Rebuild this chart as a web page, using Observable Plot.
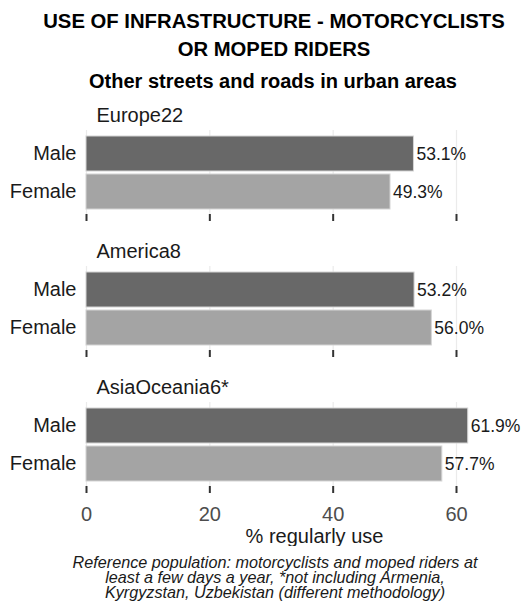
<!DOCTYPE html>
<html>
<head>
<meta charset="utf-8">
<script src="https://cdn.jsdelivr.net/npm/d3@7"></script>
<script src="https://cdn.jsdelivr.net/npm/@observablehq/plot@0.6"></script>
<style>
  html, body { margin: 0; padding: 0; background: #fff; overflow: hidden; }
  #wrap { position: relative; width: 529px; height: 608px; font-family: "Liberation Sans", Arial, sans-serif; color: #000; }
  .title { position: absolute; left: 19px; width: 510px; text-align: center; font-weight: bold; font-size: 20.3px; line-height: 28px; top: 7px; }
  .subtitle { position: absolute; left: 18px; width: 510px; text-align: center; font-weight: bold; font-size: 20px; line-height: 28px; top: 67px; }
  .caption { position: absolute; left: 20px; width: 510px; text-align: center; font-style: italic; font-size: 16.2px; line-height: 15.2px; top: 555px; color: #1a1a1a; }
  #chart { position: absolute; left: 0; top: 96px; }
</style>
</head>
<body>
<div id="wrap">
  <div class="title">USE OF INFRASTRUCTURE - MOTORCYCLISTS<br>OR MOPED RIDERS</div>
  <div class="subtitle">Other streets and roads in urban areas</div>
  <div id="chart"></div>
  <div class="caption">Reference population: motorcyclists and moped riders at<br>least a few days a year, *not including Armenia,<br>Kyrgyzstan, Uzbekistan (different methodology)</div>
</div>
<script>
const regions = ["Europe22", "America8", "AsiaOceania6*"];
const genders = ["Male", "Female"];
const maleValues = [53.1, 53.2, 61.9];
const femaleValues = [49.3, 56.0, 57.7];
const xTicks = [0, 20, 40, 60];
const xAxisLabel = "% regularly use";
const genderColors = ["#686868", "#a4a4a4"];

const rows = [];
regions.forEach((r, i) => {
  rows.push({region: r, gender: "Male", value: maleValues[i]});
  rows.push({region: r, gender: "Female", value: femaleValues[i]});
});

const chart = Plot.plot({
  width: 529,
  height: 450,
  marginLeft: 86,
  marginRight: 73,
  marginTop: 33,
  marginBottom: 60,
  style: {fontFamily: "Liberation Sans, Arial, sans-serif", background: "#fff"},
  x: {domain: [0, 60], label: null},
  y: {domain: genders, paddingInner: 0.092, paddingOuter: 0.15, label: null},
  fy: {domain: regions, paddingInner: 0.385, paddingOuter: 0, axis: null, label: null},
  color: {domain: genders, range: genderColors},
  marks: [
    Plot.gridX({ticks: xTicks, stroke: "#ebebeb", strokeOpacity: 1, strokeWidth: 1.2}),
    Plot.barX(rows, {x: "value", y: "gender", fy: "region", fill: "gender", stroke: "#d4d4d4", strokeWidth: 1}),
    Plot.text(rows, {x: "value", y: "gender", fy: "region", text: d => d.value.toFixed(1) + "%", textAnchor: "start", dx: 2.5, fontSize: 17.5, fill: "#1a1a1a"}),
    Plot.axisY({tickSize: 0, tickPadding: 10, fontSize: 20, color: "#1a1a1a", label: null}),
    Plot.axisX({ticks: xTicks, tickSize: 7, tickFormat: () => "", stroke: "#333", strokeWidth: 2, facetAnchor: null, label: null}),
    Plot.axisX({ticks: xTicks, tickSize: 0, tickPadding: 20, fontSize: 20, color: "#4d4d4d", label: null}),
    Plot.text(regions, {fy: d => d, text: d => d, frameAnchor: "top-left", lineAnchor: "middle", textAnchor: "start", dx: 10, dy: -15, fontSize: 20, fill: "#1a1a1a"}),
    Plot.text([xAxisLabel], {fy: () => regions[regions.length - 1], text: d => d, frameAnchor: "bottom", lineAnchor: "middle", dx: 43, dy: 50, fontSize: 20, fill: "#1a1a1a"})
  ]
});
document.getElementById("chart").appendChild(chart);
</script>
</body>
</html>
